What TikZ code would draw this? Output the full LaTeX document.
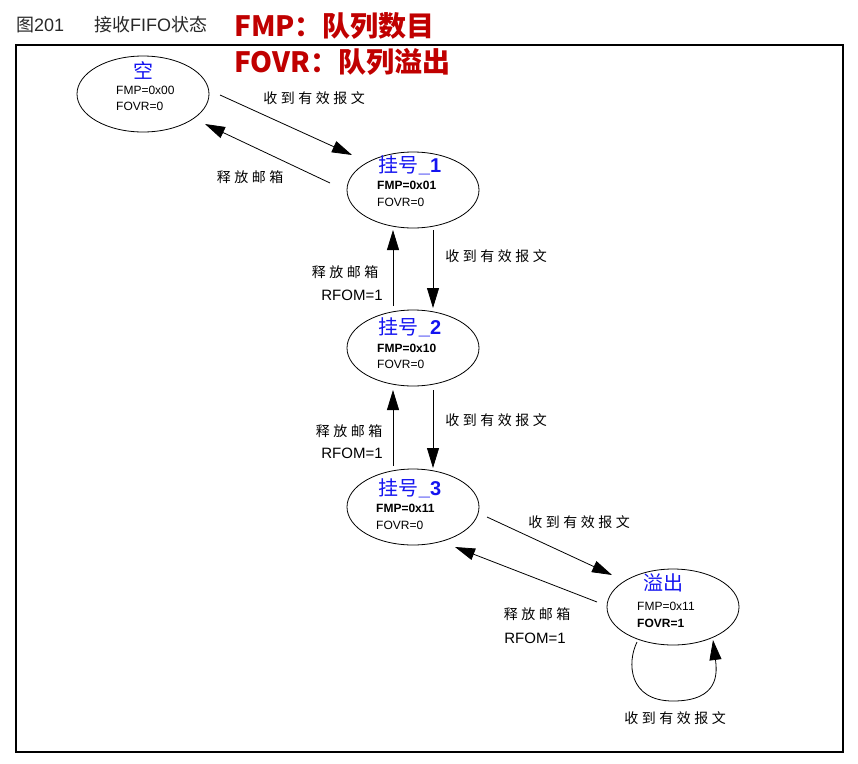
\documentclass[tikz,border=0pt]{standalone}
\usepackage{fontspec}
\setmainfont{Liberation Sans}
\newfontfamily\cjk{Noto Sans CJK SC}
\newfontfamily\cjksp[LetterSpace=25]{Noto Sans CJK SC}
\usetikzlibrary{shapes.geometric,arrows.meta,calc}
\definecolor{redtxt}{RGB}{192,0,0}
\definecolor{bluetxt}{RGB}{20,20,240}
\definecolor{graytxt}{RGB}{40,40,40}
\tikzset{
  state/.style={ellipse,draw,line width=0.8pt,minimum width=132pt,minimum height=76pt,inner sep=0pt},
  stitle/.style={inner sep=0pt,text=bluetxt,font=\fontsize{20}{22}\selectfont},
  sline/.style={inner sep=0pt,anchor=west,font=\fontsize{12}{14}\selectfont},
  clabel/.style={inner sep=0pt,font=\cjksp\fontsize{14}{16}\selectfont},
  rlabel/.style={inner sep=0pt,font=\fontsize{15}{17}\selectfont},
  conn/.style={line width=0.8pt,-{Triangle[length=20pt,width=12pt]}},
  redhead/.style={inner sep=0pt,anchor=west,text=redtxt,font=\cjk\bfseries\fontsize{28}{30}\selectfont},
}
\begin{document}
\begin{tikzpicture}[x=1pt,y=-1pt]
\useasboundingbox (0,0) rectangle (858,763);
% frame
\draw[line width=1.2pt] (16,45) rectangle (843,752);
% headings
\node[inner sep=0pt,anchor=west,text=graytxt,font=\fontsize{18}{20}\selectfont] (fig) at (16,25) {{\cjk 图}201};
\node[inner sep=0pt,anchor=west,text=graytxt,font=\fontsize{18}{20}\selectfont] (figt) at (94,25) {{\cjk 接收}FIFO{\cjk 状态}};
\node[redhead] (h1) at (234,26) {FMP：队列数目};
\node[redhead] (h2) at (234,62) {FOVR：队列溢出};
% states
\node[state] (e0) at (143,94) {};
\node[state] (e1) at (413,190) {};
\node[state] (e2) at (413,348) {};
\node[state] (e3) at (413,507) {};
\node[state] (e4) at (673,607) {};
% state texts
\node[stitle] (t0) at (143,70) {\cjk 空};
\node[sline] (a0) at (116,90) {FMP=0x00};
\node[sline] (b0) at (116,106) {FOVR=0};
\node[stitle] (t1) at (410,165) {{\cjk 挂号}\textbf{\_1}};
\node[sline,font=\bfseries\fontsize{12}{14}\selectfont] (a1) at (377,185) {FMP=0x01};
\node[sline] (b1) at (377,202) {FOVR=0};
\node[stitle] (t2) at (410,327) {{\cjk 挂号}\textbf{\_2}};
\node[sline,font=\bfseries\fontsize{12}{14}\selectfont] (a2) at (377,348) {FMP=0x10};
\node[sline] (b2) at (377,364) {FOVR=0};
\node[stitle] (t3) at (410,488) {{\cjk 挂号}\textbf{\_3}};
\node[sline,font=\bfseries\fontsize{12}{14}\selectfont] (a3) at (376,508) {FMP=0x11};
\node[sline] (b3) at (376,525) {FOVR=0};
\node[stitle] (t4) at (663,583) {\cjk 溢出};
\node[sline] (a4) at (637,606) {FMP=0x11};
\node[sline,font=\bfseries\fontsize{12}{14}\selectfont] (b4) at (637,623) {FOVR=1};
% connectors
\draw[conn] ($(e0.center)+(77,1)$) -- ($(e1.center)+(-61,-35)$);
\draw[conn] ($(e1.center)+(-83,-7)$) -- ($(e0.center)+(62,30)$);
\draw[conn] ($(e1.center)+(20,40)$) -- ($(e2.center)+(20,-40)$);
\draw[conn] ($(e2.center)+(-20,-42)$) -- ($(e1.center)+(-20,40)$);
\draw[conn] ($(e2.center)+(20,42)$) -- ($(e3.center)+(20,-39)$);
\draw[conn] ($(e3.center)+(-20,-41)$) -- ($(e2.center)+(-20,42)$);
\draw[conn] ($(e3.center)+(74,10)$) -- ($(e4.center)+(-61,-32)$);
\draw[conn] ($(e4.center)+(-76,-5)$) -- ($(e3.center)+(42,40)$);
\draw[conn] ($(e4.center)+(-36,35)$) .. controls (627,662) and (628,701) .. (673,701)
   .. controls (720,701) and (717,672) .. ($(e4.center)+(40,33)$);
% connector labels
\node[clabel] (l01) at (314,98) {收到有效报文};
\node[clabel] (l10) at (250,177) {释放邮箱};
\node[clabel] (l12) at (496,256) {收到有效报文};
\node[clabel] (l21) at (345,272) {释放邮箱};
\node[rlabel] (r21) at (352,295) {RFOM=1};
\node[clabel] (l23) at (496,420) {收到有效报文};
\node[clabel] (l32) at (349,431) {释放邮箱};
\node[rlabel] (r32) at (352,453) {RFOM=1};
\node[clabel] (l34) at (579,522) {收到有效报文};
\node[clabel] (l43) at (537,614) {释放邮箱};
\node[rlabel] (r43) at (535,638) {RFOM=1};
\node[clabel] (l44) at (675,718) {收到有效报文};
\end{tikzpicture}
\end{document}
